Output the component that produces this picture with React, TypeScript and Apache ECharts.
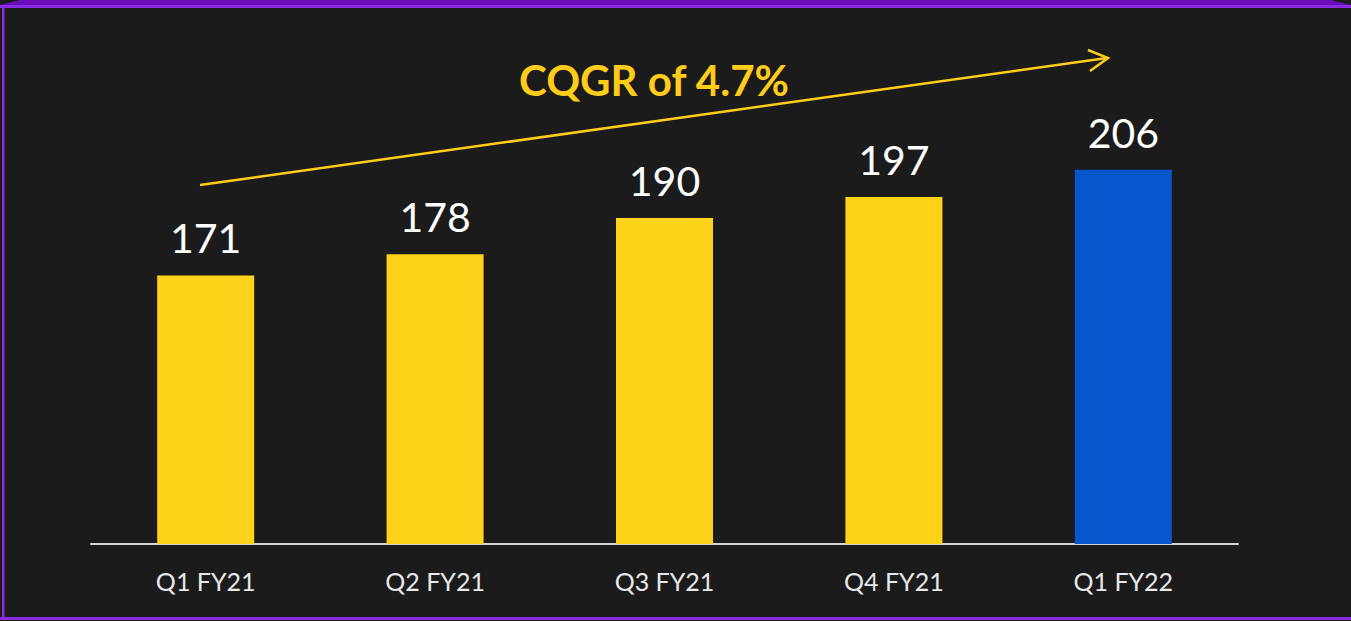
import React, { useEffect, useRef } from "react";
import * as echarts from "echarts";

const categories = ["Q1 FY21", "Q2 FY21", "Q3 FY21", "Q4 FY21", "Q1 FY22"];
const values = [171, 178, 190, 197, 206];
const barColors = ["#FFD31A", "#FFD31A", "#FFD31A", "#FFD31A", "#0756CC"];
const growthLabel = "CQGR of 4.7%";

export default function App() {
  const ref = useRef<HTMLDivElement>(null);
  useEffect(() => {
    if (!ref.current) return;
    const chart = echarts.init(ref.current, null, { renderer: "svg" });
    const gold = "#FFCC1A";
    chart.setOption({
      animation: false,
      backgroundColor: "#1b1b1b",
      grid: { left: 91, right: 113, top: 40, bottom: 77, containLabel: false },
      xAxis: {
        type: "category",
        data: categories,
        axisLine: { show: true, lineStyle: { color: "#d4d4d4", width: 2 } },
        axisTick: { show: false },
        axisLabel: {
          color: "#e8e8e8",
          fontSize: 25,
          fontFamily: "Lato",
          margin: 24,
        },
      },
      yAxis: {
        type: "value",
        min: 82,
        max: 249,
        show: false,
        splitLine: { show: false },
      },
      series: [
        {
          type: "bar",
          barWidth: 97,
          data: values.map((v, i) => ({ value: v, itemStyle: { color: barColors[i] } })),
          label: {
            show: true,
            position: "top",
            distance: 17,
            color: "#ffffff",
            fontSize: 41,
            fontFamily: "Lato",
          },
        },
      ],
      graphic: [
        { type: "polygon", shape: { points: [[0, 5], [20, 0], [1331, 0], [1351, 5]] }, style: { fill: "#6A0DB8" } },
        { type: "rect", shape: { x: 0, y: 5, width: 1351, height: 3 }, style: { fill: "#8A2BE2" } },
        { type: "rect", shape: { x: 2, y: 5, width: 2.5, height: 615 }, style: { fill: "#8A2BE2" } },
        { type: "rect", shape: { x: 0, y: 617, width: 1351, height: 3 }, style: { fill: "#8A2BE2" } },
        {
          type: "line",
          shape: { x1: 200, y1: 185, x2: 1107, y2: 58 },
          style: { stroke: gold, lineWidth: 2.5 },
        },
        {
          type: "polyline",
          shape: { points: [[1088, 50], [1108, 58], [1090, 71]] },
          style: { stroke: gold, lineWidth: 2.5, fill: "none" },
        },
        {
          type: "text",
          x: 654,
          y: 80,
          style: {
            text: growthLabel,
            fill: gold,
            fontSize: 42,
            fontWeight: "bold",
            fontFamily: "Lato",
            align: "center",
            verticalAlign: "middle",
          },
        },
      ],
    });
    return () => chart.dispose();
  }, []);
  return (
    <div
      ref={ref}
      style={{ position: "fixed", left: 0, top: 0, width: 1351, height: 621 }}
    />
  );
}
